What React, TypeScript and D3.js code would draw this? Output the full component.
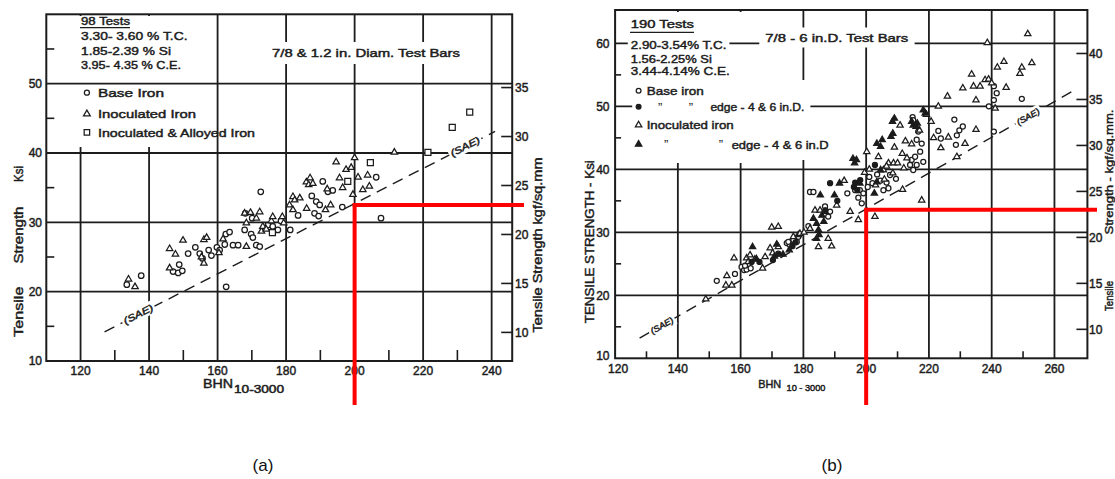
import React, { useRef, useEffect } from "react";
import * as d3 from "d3";

type Pt = [number, number];

const W = 1115;
const H = 479;
const FONT = "'Liberation Sans', Arial, sans-serif";
const INK = "#1c1c1c";

// ---------- (a) 98 tests, 7/8 & 1.2 in. diam. test bars
const bhnTicksA = [120, 140, 160, 180, 200, 220, 240];
const bhnMinorA = [130, 150, 170, 190, 210, 230];
const ksiTicksA = [10, 20, 30, 40, 50];
const ksiMinorA = [15, 25, 35, 45, 55];
const kgfTicksA = [10, 15, 20, 25, 30, 35];
const notesA = ["3.30- 3.60 % T.C.", "1.85-2.39 % Si", "3.95- 4.35 % C.E."];
const legendA = ["Base Iron", "Inoculated Iron", "Inoculated & Alloyed Iron"];

const baseIronA: Pt[] = [
  [133.5, 21.0], [137.7, 22.3], [162.5, 20.7], [172.6, 34.4], [207.7, 30.6], [196.4, 32.2],
  [147.0, 22.9], [148.5, 22.7], [149.7, 23.0], [148.8, 23.9], [151.4, 25.5], [153.5, 26.4],
  [154.8, 25.5], [155.6, 24.8], [157.4, 26.0], [158.2, 25.2], [159.8, 26.4], [160.6, 26.0],
  [162.1, 26.8], [162.4, 28.3], [163.5, 28.6], [164.5, 26.7], [166.0, 26.7], [167.9, 28.9],
  [168.1, 31.3], [170.1, 30.6], [169.8, 28.3], [170.3, 27.8], [171.3, 26.7], [172.3, 26.5],
  [174.7, 29.6], [176.1, 29.4], [177.6, 28.9], [178.5, 30.2], [181.2, 28.9], [183.5, 31.0],
  [187.5, 33.8], [188.3, 31.3], [188.8, 33.0], [189.5, 30.9], [189.8, 32.5], [190.7, 35.9],
  [192.2, 34.4], [193.6, 34.6], [206.3, 36.5],
];
const inoculatedA: Pt[] = [
  [134.0, 21.8], [135.9, 20.7], [146.0, 23.4], [146.0, 26.2], [147.7, 25.4], [149.9, 27.4],
  [155.3, 25.0], [156.0, 24.1], [156.0, 27.5], [156.8, 27.8], [160.4, 25.6], [161.6, 27.6],
  [167.9, 31.3], [168.4, 29.9], [168.4, 26.5], [169.6, 31.4], [171.3, 30.6], [172.3, 31.5],
  [172.8, 28.7], [173.2, 29.4], [174.2, 29.0], [175.7, 30.2], [176.1, 30.8], [178.9, 30.8],
  [179.3, 29.9], [181.0, 32.5], [182.0, 31.8], [182.0, 33.7], [182.5, 33.2], [184.0, 33.5],
  [185.9, 35.8], [186.6, 35.4], [187.0, 36.4], [187.8, 35.6], [186.0, 32.0], [191.5, 31.8],
  [193.0, 32.5], [192.0, 34.8], [194.6, 38.7], [195.6, 36.4], [196.5, 35.0], [197.5, 37.6],
  [199.0, 37.9], [199.5, 34.0], [200.0, 39.3], [201.0, 36.5], [202.4, 34.7], [203.8, 36.8],
  [204.3, 35.2], [211.6, 40.1],
];
const alloyedA: Pt[] = [
  [176.0, 28.5], [198.0, 35.9], [204.6, 38.6], [221.4, 40.1], [228.5, 43.7], [233.6, 45.9],
];
const saeA: Pt[] = [[127, 14.2], [241, 43.1]];

// ---------- (b) 190 tests, 7/8 - 6 in. D. test bars
const bhnTicksB = [120, 140, 160, 180, 200, 220, 240, 260];
const bhnMinorB = [130, 150, 170, 190, 210, 230, 250];
const ksiTicksB = [10, 20, 30, 40, 50, 60];
const ksiMinorB = [15, 25, 35, 45, 55];
const kgfTicksB = [10, 15, 20, 25, 30, 35, 40];
const notesB = ["2.90-3.54% T.C.", "1.56-2.25% Si", "3.44-4.14% C.E."];
const legendB = ["Base iron", "edge - 4 & 6 in.D.", "Inoculated iron", "edge - 4 & 6 in.D"];

const baseIronB: Pt[] = [
  [152.4, 22.3], [158.2, 23.4], [160.3, 24.5], [161.1, 24.0], [161.9, 24.1], [163.2, 24.3],
  [161.4, 24.7], [174.7, 28.3], [175.7, 28.0], [176.8, 28.8], [177.9, 28.5], [178.4, 29.3],
  [175.2, 28.5], [181.6, 31.0], [182.1, 36.4], [183.2, 36.4], [186.9, 34.1], [188.5, 33.3],
  [187.9, 32.5], [194.0, 36.2], [196.5, 36.7], [198.0, 36.7], [199.1, 36.2], [198.6, 34.6],
  [197.5, 35.5], [200.5, 37.2], [202.0, 37.8], [204.5, 38.2], [206.5, 37.9], [207.1, 37.0],
  [205.5, 36.7], [207.6, 39.1], [209.5, 38.5], [214.5, 41.5], [215.0, 39.9], [214.0, 40.7],
  [216.1, 40.7], [215.6, 42.0], [217.2, 42.8], [218.2, 41.2], [216.6, 46.0], [216.1, 44.7],
  [217.7, 44.1], [214.8, 48.3], [215.0, 47.8], [223.0, 46.1], [223.8, 44.9], [228.1, 47.9],
  [229.7, 46.2], [230.8, 46.8], [228.9, 45.4], [228.6, 43.9], [239.1, 50.0], [240.7, 51.0],
  [241.6, 52.1], [240.7, 53.2], [249.6, 51.2], [240.7, 46.0], [201.0, 38.8], [203.5, 39.2],
];
const baseEdgeB: Pt[] = [
  [163.5, 25.3], [166.0, 25.3], [170.3, 25.6], [172.0, 26.6], [176.5, 27.8], [177.5, 28.4],
  [188.5, 37.8], [196.1, 37.2], [197.2, 36.7], [198.1, 38.3], [202.8, 40.7], [190.8, 35.0],
  [187.0, 33.5], [196.5, 37.9],
];
const inoculatedB: Pt[] = [
  [148.9, 19.4], [155.3, 21.6], [157.2, 21.6], [155.6, 23.1], [157.9, 25.9], [161.9, 25.9],
  [162.4, 25.3], [163.0, 26.4], [164.5, 25.7], [167.0, 24.3], [167.8, 26.1], [169.4, 27.5],
  [170.2, 26.7], [169.9, 30.8], [172.0, 30.9], [172.0, 27.7], [176.8, 29.3], [178.4, 29.6],
  [178.9, 29.8], [180.2, 30.0], [182.1, 30.6], [184.8, 27.7], [187.9, 29.0], [189.0, 27.8],
  [183.7, 33.5], [185.3, 33.5], [186.9, 33.3], [190.6, 34.3], [193.0, 38.2], [194.9, 33.3],
  [197.5, 32.0], [202.8, 32.5], [200.2, 42.8], [203.9, 42.0], [207.1, 41.0], [208.7, 41.0],
  [199.5, 39.5], [201.0, 40.0], [205.5, 39.9], [206.5, 40.5], [208.5, 39.4], [203.0, 37.5],
  [205.8, 38.4], [210.0, 41.0], [211.5, 42.5], [212.0, 40.2], [213.0, 41.8], [210.8, 47.0],
  [211.6, 36.8], [217.7, 35.1], [217.0, 46.2], [220.7, 47.6], [223.0, 50.0], [225.9, 51.6],
  [223.8, 43.4], [226.2, 45.1], [228.9, 42.0], [231.5, 44.1], [235.0, 46.3], [235.0, 51.0],
  [241.1, 49.7], [230.8, 52.9], [234.2, 53.2], [236.3, 53.2], [237.9, 54.2], [239.0, 54.3],
  [240.0, 53.7], [244.6, 53.0], [233.6, 55.1], [241.8, 56.2], [243.9, 57.1], [249.0, 55.2],
  [249.6, 56.2], [252.8, 56.9], [238.6, 60.1], [251.5, 61.5], [219.2, 48.7], [214.5, 44.0],
  [212.5, 44.5], [209.0, 43.5], [221.5, 45.0],
];
const inoculatedEdgeB: Pt[] = [
  [163.8, 27.7], [165.0, 25.8], [171.5, 28.1], [170.8, 26.2], [173.5, 26.5], [175.5, 27.2],
  [183.2, 32.2], [184.2, 31.4], [186.5, 31.7], [185.9, 32.7], [184.8, 30.4], [185.0, 29.6],
  [184.2, 29.0], [185.4, 35.9], [189.9, 35.9], [191.5, 37.8], [195.8, 41.7], [196.3, 41.0],
  [196.9, 41.5], [204.6, 39.9], [203.4, 38.0], [202.6, 36.2], [203.4, 44.1], [204.6, 43.6],
  [205.1, 44.7], [207.9, 45.2], [208.5, 45.7], [209.0, 48.1], [208.4, 47.6], [214.5, 47.6],
  [215.0, 47.0], [215.9, 46.8], [216.3, 47.3], [218.2, 49.4], [218.8, 48.9], [198.0, 37.8],
];
const saeB: Pt[] = [[127.8, 13.2], [265.4, 52.3]];

// red guide drawn on both: 200 BHN against 23 kgf/sq.mm
const guide = { bhn: 200, kgf: 23 };

const layoutA = {
  left: 46.3, right: 512.2, top: 14.3, bottom: 361,
  bhnDomain: [110, 246], ksiDomain: [10, 60], kgfPerKsi: 0.708,
  blanks: [[48, 16, 200, 147]], minorLen: 8, bottomMinorLen: 11,
  redRight: 524, redBottom: 405,
};
const layoutB = {
  left: 615.1, right: 1087.4, top: 10, bottom: 358.3,
  bhnDomain: [120, 270.5], ksiDomain: [10, 65.3], kgfPerKsi: 0.685,
  blanks: [[617, 12, 778, 163], [778, 80, 808, 160]], minorLen: 6, bottomMinorLen: 7,
  redRight: 1097, redBottom: 405,
};

const SHAPES: any = { circle: d3.symbolCircle, triangle: d3.symbolTriangle, square: d3.symbolSquare };

const txt = (g: any, x: number, y: number, s: string, o: any = {}) => {
  const t = g.append("text")
    .attr("x", x).attr("y", y)
    .attr("font-family", FONT)
    .attr("font-size", o.size ?? 11.5)
    .attr("font-style", o.italic ? "italic" : null)
    .attr("text-anchor", o.anchor ?? "start")
    .attr("fill", INK).attr("stroke", INK).attr("stroke-width", o.thin ? 0 : 0.45)
    .text(s);
  if (o.rotate) t.attr("transform", `rotate(-90 ${x} ${y})`).attr("dominant-baseline", "central");
  if (o.len) t.attr("textLength", o.len).attr("lengthAdjust", "spacingAndGlyphs");
  if (o.bg) {
    const b = t.node().getBBox();
    g.insert("rect", () => t.node())
      .attr("x", b.x - o.bg[0]).attr("y", b.y - o.bg[1])
      .attr("width", b.width + 2 * o.bg[0]).attr("height", b.height + 2 * o.bg[1])
      .attr("fill", "#fff");
  }
  return t;
};

const marker = (g: any, cx: number, cy: number, shape: string, filled: boolean, size: number) =>
  g.append("path")
    .attr("transform", `translate(${cx},${cy})`)
    .attr("d", d3.symbol(SHAPES[shape], size)())
    .attr("fill", filled ? INK : "#fff")
    .attr("stroke", INK).attr("stroke-width", 1.25);

const frame = (svg: any, L: any, t: any) => {
  const g = svg.append("g");
  const x = d3.scaleLinear().domain(L.bhnDomain).range([L.left, L.right]);
  const y = d3.scaleLinear().domain(L.ksiDomain).range([L.bottom, L.top]);
  const yK = d3.scaleLinear()
    .domain(L.ksiDomain.map((v: number) => v * L.kgfPerKsi))
    .range([L.bottom, L.top]);
  const line = (x1: number, y1: number, x2: number, y2: number, w = 1.8) =>
    g.append("line").attr("x1", x1).attr("y1", y1).attr("x2", x2).attr("y2", y2)
      .attr("stroke", INK).attr("stroke-width", w);

  t.bhn.filter((v: number) => x(v) - L.left > 3).forEach((v: number) => line(x(v), L.top, x(v), L.bottom));
  L.blanks.forEach(([a, b, c, d]: number[]) =>
    g.append("rect").attr("x", a).attr("y", b).attr("width", c - a).attr("height", d - b).attr("fill", "#fff"));
  t.ksi.filter((v: number) => L.bottom - y(v) > 3).forEach((v: number) => line(L.left, y(v), L.right, y(v)));
  g.append("rect")
    .attr("x", L.left).attr("y", L.top)
    .attr("width", L.right - L.left).attr("height", L.bottom - L.top)
    .attr("fill", "none").attr("stroke", INK).attr("stroke-width", 2);
  t.bhnMinor.forEach((v: number) => line(x(v), L.bottom, x(v), L.bottom - L.bottomMinorLen, 1.6));
  t.ksiMinor.forEach((v: number) => line(L.left, y(v), L.left + L.minorLen, y(v), 1.6));
  t.kgf.forEach((v: number) => line(L.right - 11, yK(v), L.right, yK(v), 1.6));
  return { g, x, y, yK, L };
};

const sae = (P: any, pts: Pt[], at: number[], size: number, len: number) => {
  const [[x1, y1], [x2, y2]] = pts;
  P.g.append("line")
    .attr("x1", P.x(x1)).attr("y1", P.y(y1)).attr("x2", P.x(x2)).attr("y2", P.y(y2))
    .attr("stroke", INK).attr("stroke-width", 1.4).attr("stroke-dasharray", "11 7");
  const f = d3.scaleLinear().domain([x1, x2]).range([y1, y2]);
  const ang = (Math.atan2(P.y(y2) - P.y(y1), P.x(x2) - P.x(x1)) * 180) / Math.PI;
  at.forEach((b) => {
    const lg = P.g.append("g").attr("transform", `translate(${P.x(b)},${P.y(f(b))}) rotate(${ang})`);
    txt(lg, 0, 3, "(SAE)", { size, anchor: "middle", italic: true, len, bg: [2, 1] });
  });
};

const points = (P: any, data: Pt[], shape: string, filled: boolean, size: number) =>
  P.g.append("g").selectAll("path").data(data).join("path")
    .attr("transform", (d: Pt) => `translate(${P.x(d[0])},${P.y(d[1])})`)
    .attr("d", d3.symbol(SHAPES[shape], size)())
    .attr("fill", filled ? INK : "#fff")
    .attr("stroke", INK).attr("stroke-width", 1.25);

const redGuide = (svg: any, P: any) => {
  const gx = P.x(guide.bhn);
  const gy = P.yK(guide.kgf);
  svg.append("line").attr("x1", gx).attr("y1", gy).attr("x2", gx).attr("y2", P.L.redBottom)
    .attr("stroke", "#ff0000").attr("stroke-width", 4);
  svg.append("line").attr("x1", gx - 2).attr("y1", gy).attr("x2", P.L.redRight).attr("y2", gy)
    .attr("stroke", "#ff0000").attr("stroke-width", 4);
};

const drawA = (svg: any) => {
  const P = frame(svg, layoutA, { bhn: bhnTicksA, bhnMinor: bhnMinorA, ksi: ksiTicksA, ksiMinor: ksiMinorA, kgf: kgfTicksA });
  const g = P.g;
  txt(g, 81, 24.8, "98 Tests", { len: 49 });
  g.append("line").attr("x1", 80).attr("x2", 130).attr("y1", 27.6).attr("y2", 27.6)
    .attr("stroke", INK).attr("stroke-width", 1.3);
  const noteLen = [106.5, 90, 100];
  notesA.forEach((s, i) => txt(g, 81, 40.2 + i * 14.5, s, { len: noteLen[i] }));
  txt(g, 272, 57, "7/8 & 1.2 in. Diam. Test Bars", { len: 188, bg: [5, 5] });

  const shapes = ["circle", "triangle", "square"];
  const rowY = [92.7, 114, 132.3];
  const rowLen = [66, 98, 157];
  legendA.forEach((s, i) => {
    marker(g, 86.9, rowY[i], shapes[i], false, shapes[i] === "square" ? 30 : 20);
    txt(g, 98, rowY[i] + 4.2, s, { len: rowLen[i] });
  });

  sae(P, saeA, [136.9, 232.3], 9.5, 32);

  points(P, baseIronA, "circle", false, 24);
  points(P, inoculatedA, "triangle", false, 18);
  points(P, alloyedA, "square", false, 36);

  bhnTicksA.forEach((v) => txt(g, P.x(v), 374.5, String(v), { size: 12, anchor: "middle" }));
  ksiTicksA.forEach((v) => txt(g, 42, P.y(v) + 4.3, String(v), { size: 12, anchor: "end" }));
  kgfTicksA.forEach((v) => txt(g, 515, P.yK(v) + 4.3, String(v), { size: 12 }));

  txt(g, 203, 388, "BHN", { size: 12, len: 30 });
  txt(g, 234, 392.5, "10-3000", { size: 10, len: 50 });
  txt(g, 18.6, 311.7, "Tensile", { size: 13, rotate: true, anchor: "middle", len: 50 });
  txt(g, 18.6, 235, "Strength", { size: 13, rotate: true, anchor: "middle", len: 57 });
  txt(g, 18.6, 174, "Ksi", { size: 13, rotate: true, anchor: "middle", len: 16 });
  txt(g, 538, 245, "Tensile Strength   kgf/sq.mm", { size: 12, rotate: true, anchor: "middle", len: 175 });
  return P;
};

const drawB = (svg: any) => {
  const P = frame(svg, layoutB, { bhn: bhnTicksB, bhnMinor: bhnMinorB, ksi: ksiTicksB, ksiMinor: ksiMinorB, kgf: kgfTicksB });
  const g = P.g;
  txt(g, 630.8, 27.5, "190 Tests", { len: 63 });
  g.append("line").attr("x1", 630).attr("x2", 694).attr("y1", 32.3).attr("y2", 32.3)
    .attr("stroke", INK).attr("stroke-width", 1.3);
  const noteLen = [95.6, 81, 99];
  const noteY = [49.2, 62.5, 74.9];
  notesB.forEach((s, i) => txt(g, 630.8, noteY[i], s, { len: noteLen[i], bg: i === 0 ? [3, 1] : undefined }));
  txt(g, 765.3, 41.5, "7/8  - 6 in.D. Test Bars", { len: 143, bg: [6, 4] });

  const rows = [
    { cy: 90.7, shape: "circle", filled: false, ditto: [] as number[], tx: 646.7, len: 57 },
    { cy: 106.7, shape: "circle", filled: true, ditto: [660.2, 691], tx: 710.4, len: 94 },
    { cy: 125, shape: "triangle", filled: false, ditto: [] as number[], tx: 646.7, len: 87 },
    { cy: 144.3, shape: "triangle", filled: true, ditto: [666.2, 721], tx: 731.7, len: 97 },
  ];
  rows.forEach((r, i) => {
    const rg = g.append("g");
    marker(rg, 638.6, r.cy, r.shape, r.filled, 18);
    r.ditto.forEach((dx) => txt(rg, dx, r.cy + 5, "\u201d", { size: 13, anchor: "middle", thin: true }));
    txt(rg, r.tx, r.cy + 4.2, legendB[i], { len: r.len });
    const b = rg.node().getBBox();
    rg.insert("rect", ":first-child")
      .attr("x", b.x - 4).attr("y", b.y - 2).attr("width", b.width + 10).attr("height", b.height + 4)
      .attr("fill", "#fff");
  });

  sae(P, saeB, [134.9, 251.6], 8.5, 25);

  points(P, baseIronB, "circle", false, 20);
  points(P, inoculatedB, "triangle", false, 17);
  points(P, baseEdgeB, "circle", true, 20);
  points(P, inoculatedEdgeB, "triangle", true, 17);

  bhnTicksB.forEach((v) => txt(g, P.x(v) + (v === 120 ? 3 : 0), 372.5, String(v), { size: 12, anchor: "middle" }));
  ksiTicksB.forEach((v) => txt(g, 609.5, P.y(v) + (v === 10 ? 2 : 4.3), String(v), { size: 12, anchor: "end" }));
  kgfTicksB.forEach((v) => txt(g, 1089, P.yK(v) + 4.3, String(v), { size: 12 }));

  txt(g, 758.2, 388, "BHN", { size: 11.5, len: 23 });
  txt(g, 786.5, 391, "10 - 3000", { size: 9.5, len: 39 });
  txt(g, 589.7, 241.7, "TENSILE STRENGTH - Ksi", { size: 12.5, rotate: true, anchor: "middle", len: 163 });
  txt(g, 1108.5, 296, "Tensile", { size: 11.5, rotate: true, anchor: "middle", len: 30 });
  txt(g, 1108.5, 172, "Strength - kgf/sq.mm.", { size: 11.5, rotate: true, anchor: "middle", len: 125 });
  return P;
};

export default function App() {
  const ref = useRef<SVGSVGElement>(null);

  useEffect(() => {
    const svg = d3.select(ref.current);
    svg.selectAll("*").remove();
    svg.append("rect").attr("width", W).attr("height", H).attr("fill", "#fff");

    const A = drawA(svg);
    const B = drawB(svg);
    redGuide(svg, A);
    redGuide(svg, B);

    const cap = svg.append("g").attr("font-family", FONT).attr("font-size", 17).attr("fill", "#111")
      .attr("text-anchor", "middle");
    cap.append("text").attr("x", 263).attr("y", 471).text("(a)");
    cap.append("text").attr("x", 832).attr("y", 471).text("(b)");
  }, []);

  return (
    <svg
      ref={ref}
      width={W}
      height={H}
      style={{ position: "absolute", left: 0, top: 0, display: "block" }}
    />
  );
}
